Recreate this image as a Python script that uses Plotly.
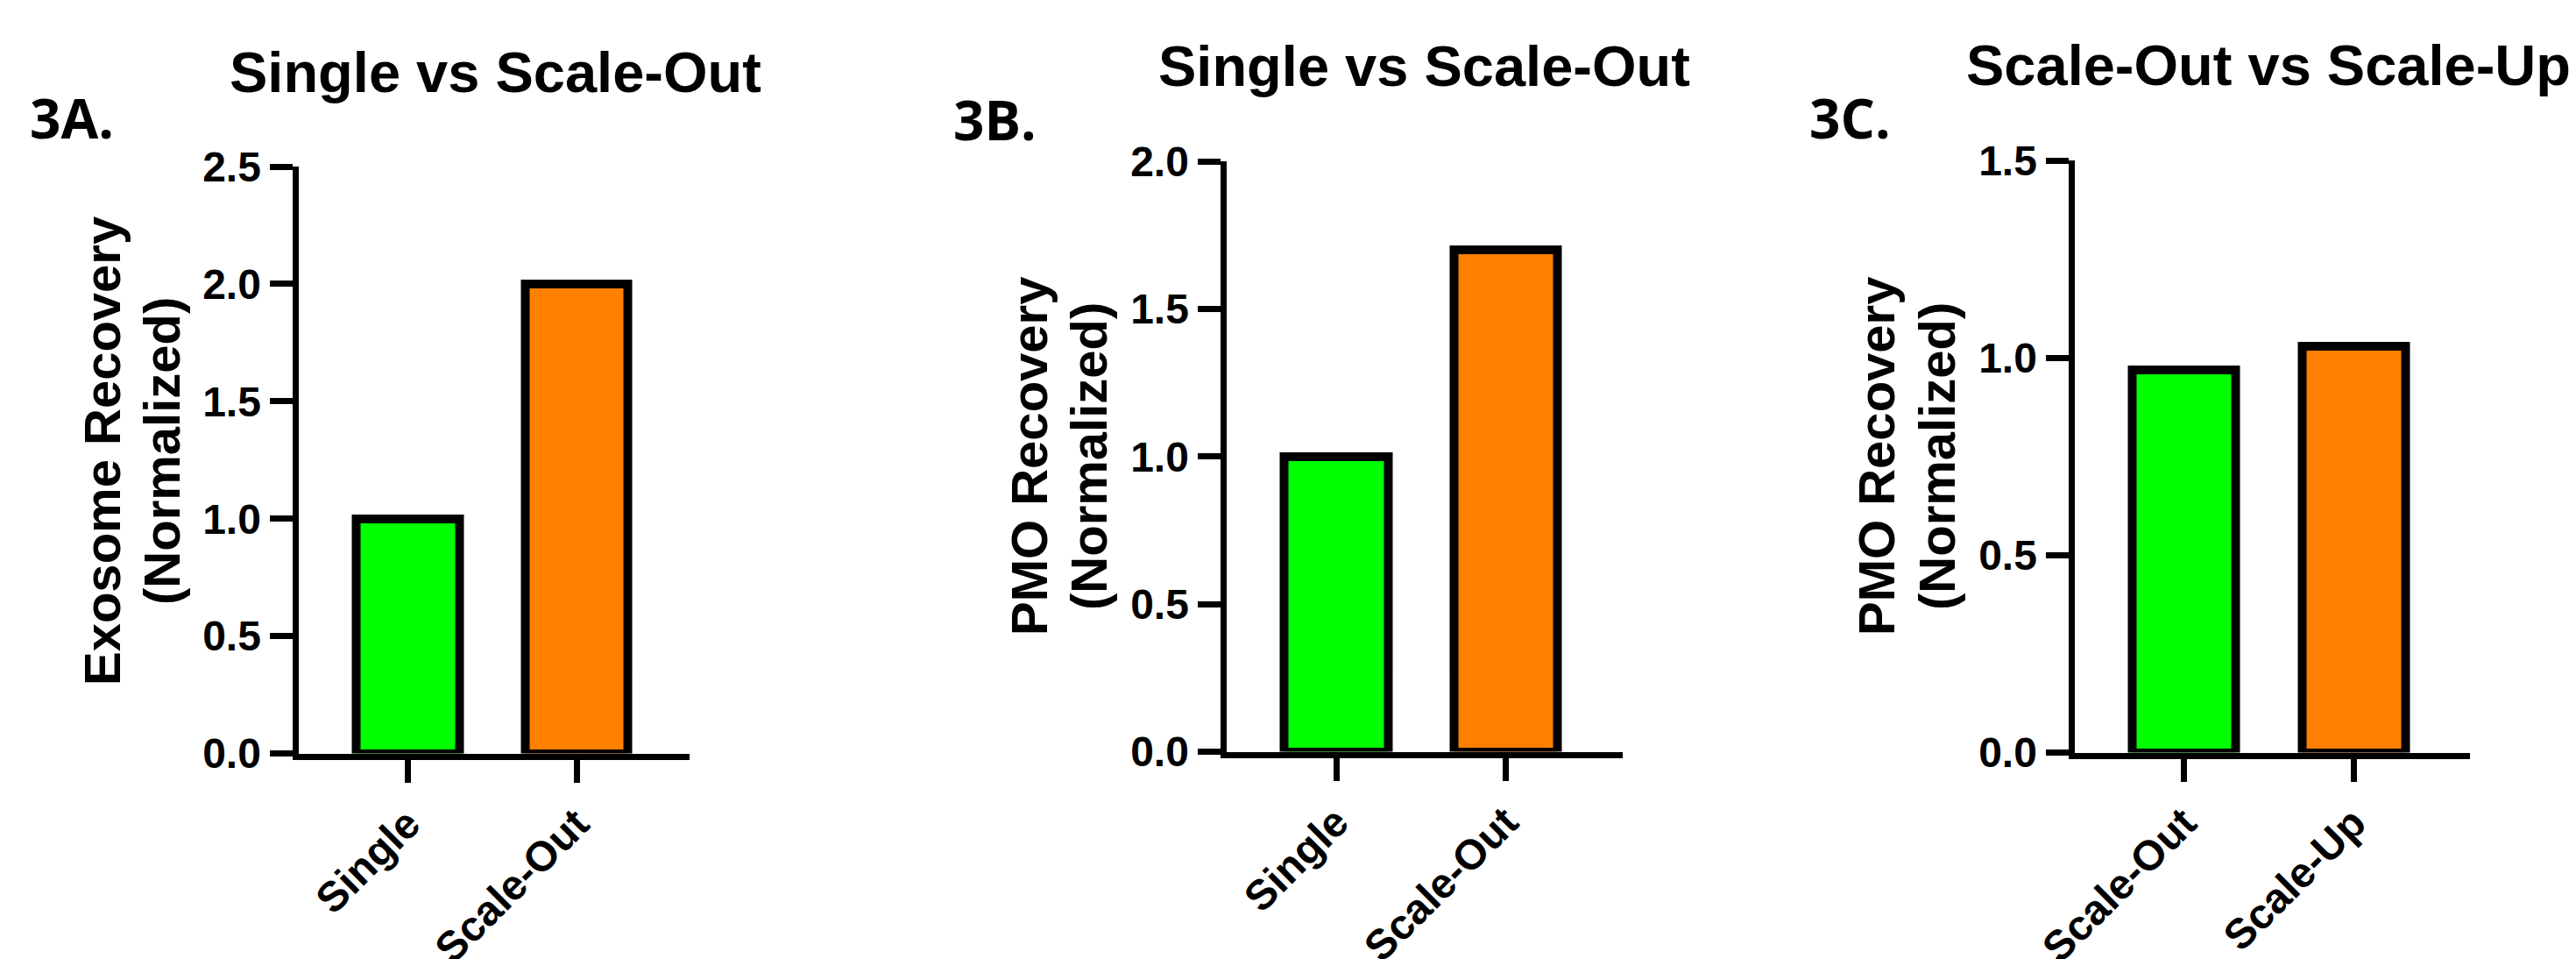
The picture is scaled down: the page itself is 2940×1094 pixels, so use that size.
import plotly.graph_objects as go

# Recovery values per panel (normalized to the reference condition)
cats_a = ["Single", "Scale-Out"]
vals_a = [1.0, 2.0]

cats_b = ["Single", "Scale-Out"]
vals_b = [1.0, 1.7]

cats_c = ["Scale-Out", "Scale-Up"]
vals_c = [0.97, 1.03]

bar_colors = ["#00FF00", "#FF8000"]

titles = ["Single vs Scale-Out", "Single vs Scale-Out", "Scale-Out vs Scale-Up"]
panel_tags = ["3A.", "3B.", "3C."]
y_title_lines = [("Exosome Recovery", "(Normalized)"),
                 ("PMO Recovery", "(Normalized)"),
                 ("PMO Recovery", "(Normalized)")]
y_ranges = [[0, 2.5], [0, 2.0], [0, 1.5]]

W, H = 2940, 1094
ARIAL = "Liberation Sans, Arial, sans-serif"
TAG_FONT = "Open Sans, Noto Sans, sans-serif"

# pixel layout of each panel: (left, right, top, bottom) of the plot area
boxes = [(340.5, 787, 190, 859.5),
         (1399.5, 1852, 184, 857.5),
         (2367.5, 2819, 183, 858.5)]
x_ranges = [[-0.649, 1.670], [-0.6486, 1.690], [-0.646, 1.687]]

fig = go.Figure()
data = [(cats_a, vals_a), (cats_b, vals_b), (cats_c, vals_c)]

for i, (cats, vals) in enumerate(data):
    sfx = "" if i == 0 else str(i + 1)
    fig.add_trace(go.Bar(
        x=cats, y=vals,
        xaxis="x" + sfx, yaxis="y" + sfx,
        width=0.61,
        marker=dict(color=bar_colors, line=dict(color="black", width=10)),
        showlegend=False,
    ))

layout = dict(
    width=W, height=H,
    margin=dict(l=0, r=0, t=0, b=0, autoexpand=False),
    paper_bgcolor="white", plot_bgcolor="white",
    bargap=0.0,
)

axis_common = dict(
    showline=True, linecolor="black", linewidth=7,
    ticks="outside", tickcolor="black", tickwidth=6.5, ticklen=26,
    showgrid=False, zeroline=False, automargin=False,
    tickfont=dict(family=ARIAL, size=48, color="black", weight="bold"),
    fixedrange=True,
)

for i, (l, r, t, b) in enumerate(boxes):
    sfx = "" if i == 0 else str(i + 1)
    xa = dict(axis_common)
    xa.update(domain=[l / W, r / W], anchor="y" + sfx,
              type="category", range=x_ranges[i], tickangle=-45)
    ya = dict(axis_common)
    ya.update(domain=[1 - b / H, 1 - t / H], anchor="x" + sfx,
              range=y_ranges[i], dtick=0.5, tick0=0, tickformat=".1f")
    layout["xaxis" + sfx] = xa
    layout["yaxis" + sfx] = ya

annotations = []
# chart titles (left edge, vertical centre)
title_pos = [(260, 82), (1320, 75), (2242, 74)]
for (x, y), txt in zip(title_pos, titles):
    annotations.append(dict(
        text=txt, x=x / W, y=1 - y / H, xref="paper", yref="paper",
        xanchor="left", yanchor="middle", showarrow=False,
        font=dict(family=ARIAL, size=65, color="black", weight="bold"),
    ))
# panel tags
tag_pos = [(32, 134), (1086, 136), (2063, 133.5)]
for (x, y), txt in zip(tag_pos, panel_tags):
    annotations.append(dict(
        text=txt, x=x / W, y=1 - y / H, xref="paper", yref="paper",
        xanchor="left", yanchor="middle", showarrow=False,
        font=dict(family=TAG_FONT, size=62, color="black", weight="bold"),
    ))
# y-axis titles: two rotated lines each
ytitle_pos = [((116, 184), 515), ((1174, 1242), 521), ((2141, 2210), 521)]
for ((x1, x2), y), (l1, l2) in zip(ytitle_pos, y_title_lines):
    for x, txt in ((x1, l1), (x2, l2)):
        annotations.append(dict(
            text=txt, x=x / W, y=1 - y / H, xref="paper", yref="paper",
            xanchor="center", yanchor="middle", showarrow=False,
            textangle=-90,
            font=dict(family=ARIAL, size=58, color="black", weight="bold"),
        ))

layout["annotations"] = annotations
fig.update_layout(**layout)
fig.write_html("out.html", config={"displayModeBar": False})
